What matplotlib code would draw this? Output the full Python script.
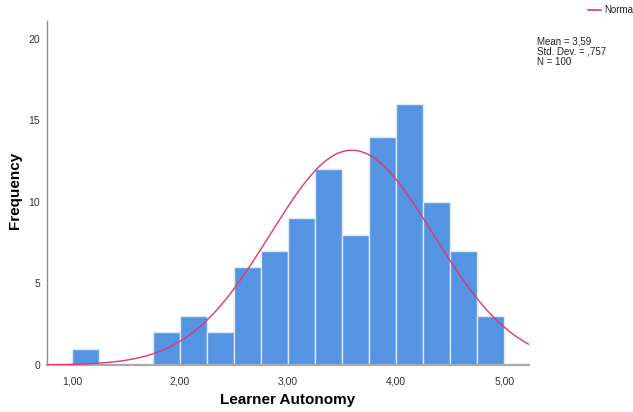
import numpy as np
import matplotlib
matplotlib.use("Agg")
import matplotlib.pyplot as plt

plt.rcParams['font.family'] = ['Liberation Sans', 'DejaVu Sans']

bin_edges = [1.00, 1.25, 1.50, 1.75, 2.00, 2.25, 2.50, 2.75, 3.00, 3.25, 3.50, 3.75, 4.00, 4.25, 4.50, 4.75, 5.00]
counts = [1, 0, 0, 2, 3, 2, 6, 7, 9, 12, 8, 14, 16, 10, 7, 3]
mean = 3.59
sd = 0.757
n = 100
xticks = [1.0, 2.0, 3.0, 4.0, 5.0]
xticklabels = ["1,00", "2,00", "3,00", "4,00", "5,00"]
yticks = [0, 5, 10, 15, 20]

fig = plt.figure(figsize=(6.33, 4.12), dpi=100)
ax = fig.add_axes([47/633, 1-365/412, (529-47)/633, (365-21)/412])

edges = np.array(bin_edges)
widths = np.diff(edges)
ax.bar(edges[:-1], counts, width=widths, align='edge', color='#5593E3',
       edgecolor='#DDE9F7', linewidth=1.0, zorder=2)

xlim = (0.77, 5.23)
xs = np.linspace(xlim[0], xlim[1], 400)
bw = widths[0]
ys = n * bw / (sd * np.sqrt(2 * np.pi)) * np.exp(-0.5 * ((xs - mean) / sd) ** 2)
ax.plot(xs, ys, color='#E0386B', linewidth=1.0, zorder=3)

ax.set_xlim(*xlim)
ax.set_ylim(0, 21.1)
ax.set_xticks(xticks)
ax.set_xticklabels(xticklabels)
ax.set_yticks(yticks)
ax.tick_params(axis='x', length=0, labelsize=7.5, colors='#333333', pad=8)
ax.tick_params(axis='y', length=0, labelsize=7.5, colors='#333333', pad=5)
for s in ['top', 'right']:
    ax.spines[s].set_visible(False)
ax.spines['left'].set_color('#8C8C8C')
ax.spines['bottom'].set_color('#AAAAAA')
ax.spines['left'].set_linewidth(1.0)
ax.spines['bottom'].set_linewidth(1.6)

ax.set_xlabel('Learner Autonomy', fontsize=11, fontweight='bold')
ax.set_ylabel('Frequency', fontsize=11, fontweight='bold')
ax.xaxis.set_label_coords((288-47)/(529-47), -(400-365)/(365-21))
ax.yaxis.set_label_coords(-(47-15)/(529-47), (365-190)/(365-21))
ax.xaxis.label.set_va('center')
ax.yaxis.label.set_va('center')

fig.text(537/633, 1-37/412, 'Mean = 3,59\nStd. Dev. = ,757\nN = 100', fontsize=7,
         va='top', ha='left', linespacing=1.0, color='#222222')

fig.add_artist(plt.Line2D([588/633, 601/633], [1-10/412, 1-10/412], color='#E0386B', linewidth=1.2))
fig.text(604/633, 1-10/412, 'Normal', fontsize=7, va='center', ha='left', color='#222222')

fig.savefig('out.png', dpi=100)
